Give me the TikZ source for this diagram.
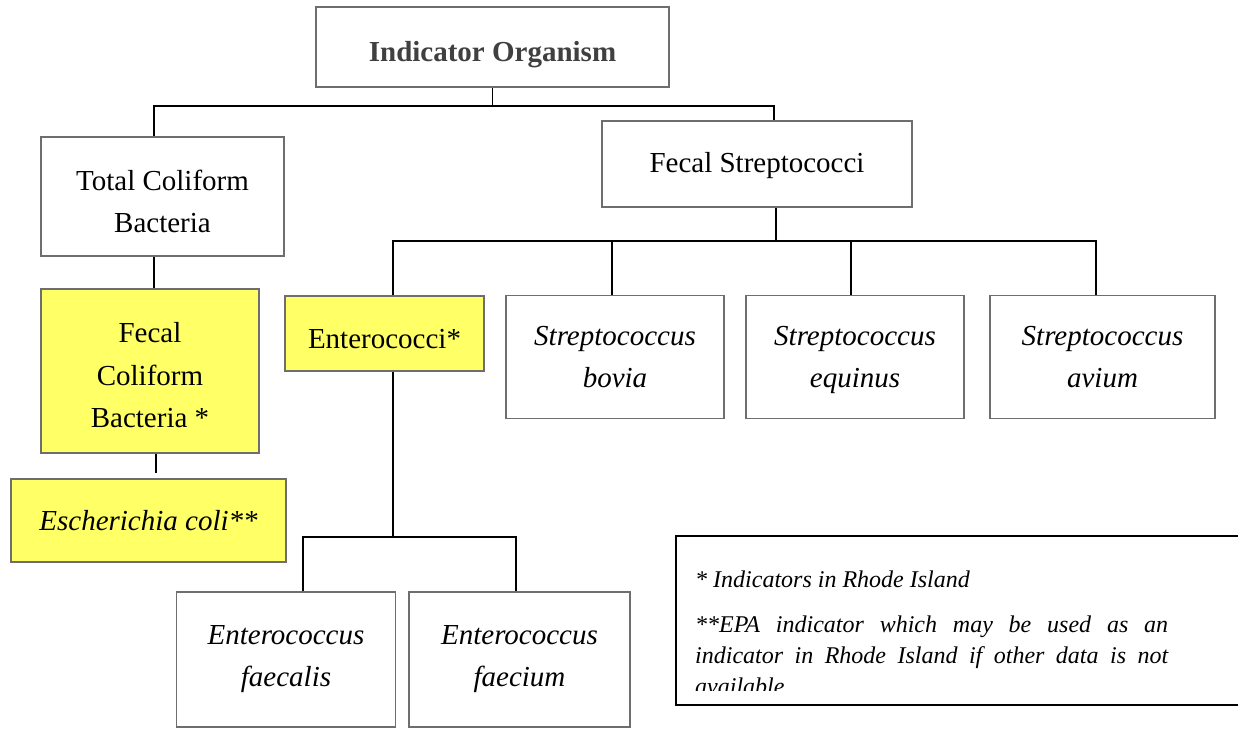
\documentclass[tikz,border=0pt]{standalone}
\usepackage{fontspec}
\setmainfont{Liberation Serif}
\usetikzlibrary{positioning}

\definecolor{boxyellow}{RGB}{255,255,102}
\definecolor{boxgray}{RGB}{110,110,110}
\definecolor{titlegray}{RGB}{64,64,64}

\begin{document}
\begin{tikzpicture}[x=1pt, y=-1pt]
	\useasboundingbox (0,0) rectangle (1238,728);
	\begin{scope}
		\tikzstyle{every node}=[align=center, inner sep=1pt, font=\fontsize{29}{42.5}\selectfont]
		\tikzstyle{box}=[draw=boxgray, line width=1.5pt, fill=white]
		\tikzstyle{ybox}=[box, fill=boxyellow]
		\tikzstyle{link}=[black, line width=1.6pt]

		% top level
		\node [box, minimum width=353, minimum height=80] (org) at (492.5, 47) {\rule{0pt}{36pt}\textcolor{titlegray}{\bfseries Indicator Organism}};

		% coliform side
		\node [box, minimum width=243, minimum height=119] (tcb) at (162.5, 196.5) {\rule{0pt}{30pt}Total Coliform\\Bacteria};
		\node [ybox, minimum width=218, minimum height=164] (fcb) at (150, 371) {\rule{0pt}{29pt}Fecal\\Coliform\\Bacteria *};
		\node [ybox, minimum width=275, minimum height=83] (ecoli) at (148.5, 520.5) {\itshape Escherichia coli**};

		% streptococci side
		\node [box, minimum width=310, minimum height=86] (fs) at (757, 164) {\rule{0pt}{24pt}Fecal Streptococci};
		\node [ybox, minimum width=199, minimum height=75] (ent) at (384.5, 333.5) {\rule{0pt}{30pt}Enterococci*};
		\node [box, minimum width=218, minimum height=123] (sbov) at (615, 357) {\itshape Streptococcus\\\itshape bovia};
		\node [box, minimum width=218, minimum height=123] (sequ) at (855, 357) {\itshape Streptococcus\\\smash{\itshape equinus}};
		\node [box, minimum width=225, minimum height=123] (savi) at (1102.5, 357) {\itshape Streptococcus\\\itshape avium};
		\node [box, minimum width=219, minimum height=135] (efs) at (286, 659.5) {\itshape Enterococcus\\\itshape faecalis\rule[-7pt]{0pt}{7pt}};
		\node [box, minimum width=221, minimum height=135] (efm) at (519.5, 659.5) {\itshape Enterococcus\\\itshape faecium\rule[-7pt]{0pt}{7pt}};

		% bus points
		\coordinate (busA) at (154, 106);
		\coordinate (busB) at (774, 106);
		\coordinate (busC) at (393, 241);
		\coordinate (busD) at (1096, 241);
		\coordinate (fsdrop) at (776, 241);
		\coordinate (entdrop) at (393, 537);
		\coordinate (busEl) at (303, 537);
		\coordinate (busEr) at (516, 537);
		\coordinate (fcbtail) at (156, 473);

		\draw [link] (org.south) -- (org.south |- busA);
		\draw [link] (tcb.north -| busA) -- (busA) -- (busB) -- (fs.north -| busB);
		\draw [link] (tcb.south -| busA) -- (fcb.north -| busA);
		\draw [link] (fcb.south -| fcbtail) -- (fcbtail);

		\draw [link] (fs.south -| fsdrop) -- (fsdrop);
		\draw [link] (ent.north -| busC) -- (busC) -- (busD) -- (savi.north -| busD);
		\draw [link] (sbov.north -| 612,0) -- (612, 241);
		\draw [link] (sequ.north -| 851,0) -- (851, 241);

		\draw [link] (ent.south -| entdrop) -- (entdrop);
		\draw [link] (efs.north -| busEl) -- (busEl) -- (busEr) -- (efm.north -| busEr);

		% legend
		\node [draw=black, line width=2pt, inner sep=0, anchor=north west, minimum width=575, minimum height=169] (legend) at (675, 535) {};
		\begin{scope}
			\clip (675, 535) rectangle (1250, 690);
			\node [anchor=north west, inner sep=0, text width=473, align=justify, font=\fontsize{24}{31}\selectfont\itshape] (note) at (695, 570.5)
				{* Indicators in Rhode Island\par\vspace{14pt}
				**EPA indicator which may be used as an\linebreak indicator in Rhode Island if other data is not\linebreak available};
		\end{scope}
	\end{scope}
\end{tikzpicture}
\end{document}
